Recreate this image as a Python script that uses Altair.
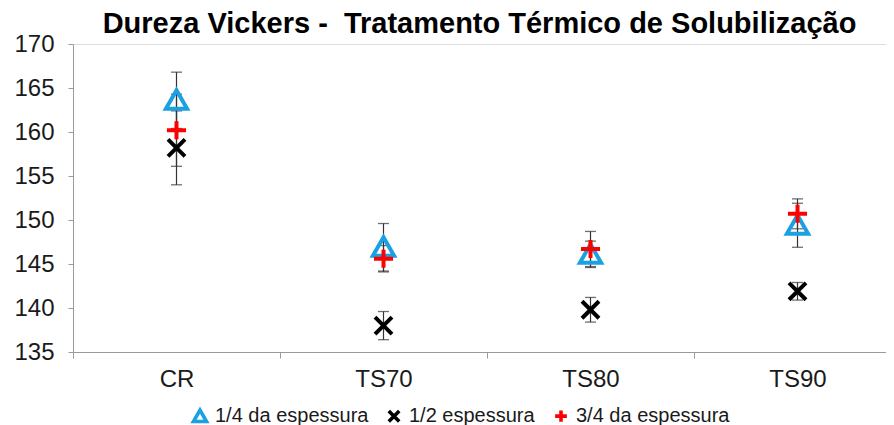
import altair as alt
import pandas as pd

categories = ["CR", "TS70", "TS80", "TS90"]
series_names = ["1/4 da espessura", "1/2 espessura", "3/4 da espessura"]

quarter = [163.6, 146.9, 146.1, 149.4]
quarter_err = [3.2, 2.7, 1.5, 2.5]
half = [158.2, 138.0, 139.8, 141.9]
half_err = [4.2, 1.6, 1.4, 1.0]
three_q = [160.2, 145.6, 146.7, 150.7]
three_q_err = [4.1, 1.5, 2.0, 1.7]

series_colors = ["#1BA1E2", "#000000", "#FF0000"]
series_shapes = [
    "M0,-0.95L1,0.8L-1,0.8Z",
    "M-0.8,-0.8L0.8,0.8M-0.8,0.8L0.8,-0.8",
    "M-0.9,0L0.9,0M0,-0.85L0,0.85",
]

rows = []
for name, vals, errs in zip(series_names, [quarter, half, three_q], [quarter_err, half_err, three_q_err]):
    for c, v, e in zip(categories, vals, errs):
        rows.append({"cat": c, "serie": name, "value": v, "lo": v - e, "hi": v + e})
df = pd.DataFrame(rows)

FONT = "Liberation Sans"

x_enc = alt.X(
    "cat:N",
    sort=categories,
    scale=alt.Scale(domain=categories, range=[0, 828], paddingInner=0, paddingOuter=0),
    axis=alt.Axis(
        title=None, labelAngle=0, labelFontSize=24, labelFont=FONT, labelColor="#1a1a1a",
        domainColor="#9a9a9a", tickColor="#9a9a9a", tickBand="extent", tickSize=6,
        labelPadding=9, grid=False,
    ),
)
y_scale = alt.Scale(domain=[135, 170], nice=False, zero=False)
y_axis = alt.Axis(
    title=None, values=[135, 140, 145, 150, 155, 160, 165, 170], labelFontSize=24, labelFont=FONT,
    labelColor="#1a1a1a", domainColor="#9a9a9a", tickColor="#9a9a9a", tickSize=5,
    labelPadding=14, grid=False,
)

base = alt.Chart(df)

rule = base.mark_rule(color="#333333", strokeWidth=1.2).encode(
    x=x_enc, y=alt.Y("lo:Q", scale=y_scale, axis=y_axis), y2="hi:Q"
)
cap_lo = base.mark_tick(color="#333333", thickness=1.3, size=11).encode(
    x=x_enc, y=alt.Y("lo:Q", scale=y_scale)
)
cap_hi = base.mark_tick(color="#333333", thickness=1.3, size=11).encode(
    x=x_enc, y=alt.Y("hi:Q", scale=y_scale)
)

legend_kw = dict(
    title=None, orient="none", legendX=117, legendY=362, direction="horizontal",
    labelFontSize=20, labelFont=FONT, labelColor="#1a1a1a", symbolSize=170,
    symbolStrokeWidth=3.6, labelOffset=5, columnPadding=12,
)

points = base.mark_point(filled=False, size=450, strokeWidth=4, opacity=1, strokeJoin="miter").encode(
    x=x_enc,
    y=alt.Y("value:Q", scale=y_scale),
    color=alt.Color(
        "serie:N",
        scale=alt.Scale(domain=series_names, range=series_colors),
        legend=alt.Legend(**legend_kw),
    ),
    shape=alt.Shape(
        "serie:N",
        scale=alt.Scale(domain=series_names, range=series_shapes),
        legend=alt.Legend(**legend_kw),
    ),
)

chart = alt.layer(rule, cap_lo, cap_hi, points).properties(
    width=813,
    height=308,
    title=alt.TitleParams(
        "Dureza Vickers -\u00a0 Tratamento Térmico de Solubilização",
        fontSize=29, font=FONT, fontWeight="bold", color="#000000", anchor="middle",
        offset=6, dy=13,
    ),
    autosize=alt.AutoSizeParams(type="none"),
    padding={"left": 65, "top": 36, "right": 0, "bottom": 73},
).configure_view(stroke=None).configure(background="white")

chart.save("out.html", embed_options={"renderer": "svg", "actions": False})
